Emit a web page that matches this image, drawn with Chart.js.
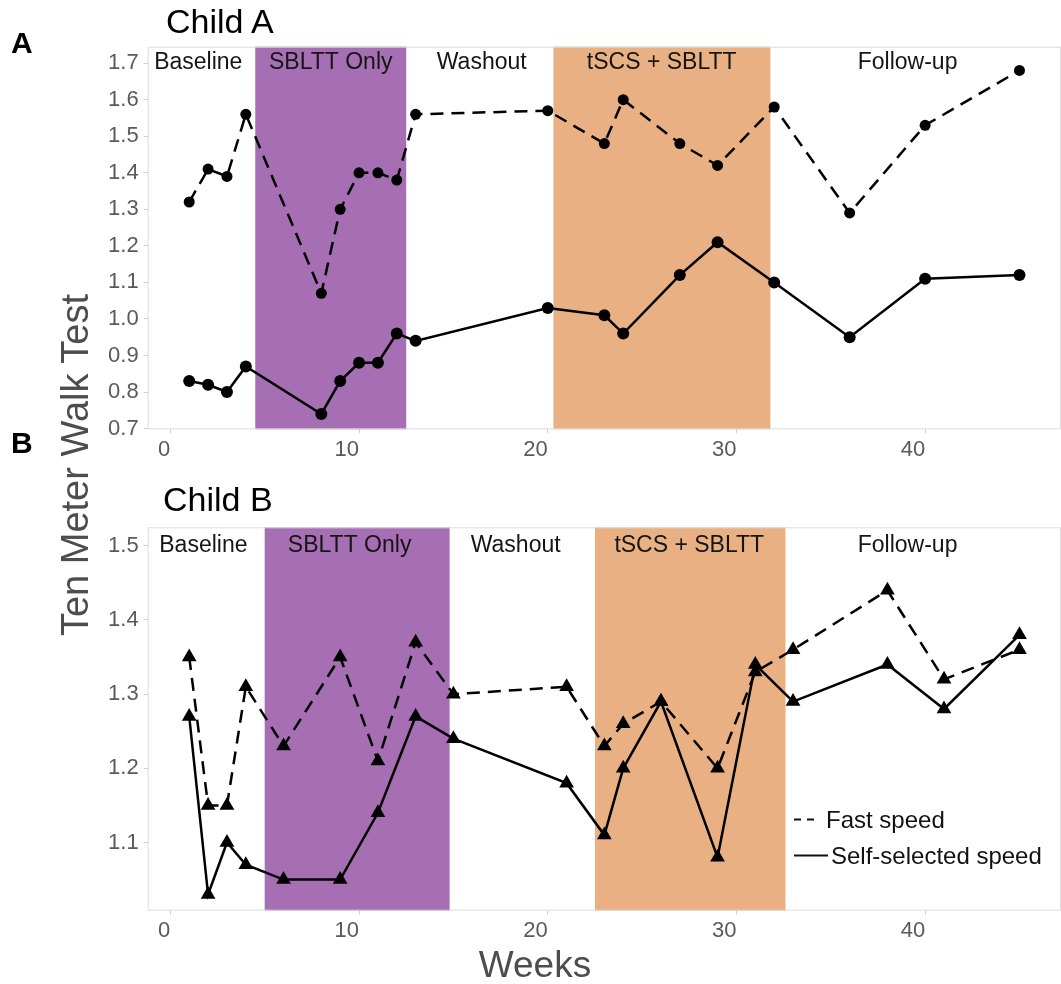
<!DOCTYPE html>
<html>
<head>
<meta charset="utf-8">
<script src="https://cdn.jsdelivr.net/npm/chart.js@4.4.1/dist/chart.umd.min.js"></script>
<style>
  html, body { margin: 0; padding: 0; background: #fff; }
  #wrap { position: relative; width: 1061px; height: 984px; overflow: hidden;
          font-family: "Liberation Sans", Arial, Helvetica, sans-serif; }
  .txt { position: absolute; white-space: nowrap; line-height: 1; }
  #boxA { position: absolute; left: 0; top: 0; width: 1061px; height: 480px; }
  #boxB { position: absolute; left: 0; top: 480px; width: 1061px; height: 504px; }
</style>
</head>
<body>
<div id="wrap">
  <div id="boxA"><canvas id="chartA" width="1061" height="480"></canvas></div>
  <div id="boxB"><canvas id="chartB" width="1061" height="504"></canvas></div>

  <div class="txt" style="left:11px; top:28px; font-size:30px; font-weight:bold; color:#000;">A</div>
  <div class="txt" style="left:11px; top:428px; font-size:30px; font-weight:bold; color:#000;">B</div>
  <div class="txt" style="left:166px; top:3.5px; font-size:34px; color:#000;">Child A</div>
  <div class="txt" style="left:163px; top:482px; font-size:34px; color:#000;">Child B</div>
  <div class="txt" style="left:-125px; top:446px; width:400px; text-align:center; font-size:38px; color:#4d4d4d; transform:rotate(-90deg);">Ten Meter Walk Test</div>
  <div class="txt" style="left:435px; top:946px; width:200px; text-align:center; font-size:37px; color:#4d4d4d;">Weeks</div>
</div>

<script>
// ---- data -------------------------------------------------------------
const xTicks = [0, 10, 20, 30, 40];
const yTicksA = [0.7, 0.8, 0.9, 1.0, 1.1, 1.2, 1.3, 1.4, 1.5, 1.6, 1.7];
const yTicksB = [1.1, 1.2, 1.3, 1.4, 1.5];

const phaseNames = ['Baseline', 'SBLTT Only', 'Washout', 'tSCS + SBLTT', 'Follow-up'];

// Child A
const weeksA = [1, 2, 3, 4, 8, 9, 10, 11, 12, 13, 20, 23, 24, 27, 29, 32, 36, 40, 45];
const fastA  = [1.32, 1.41, 1.39, 1.56, 1.07, 1.30, 1.40, 1.40, 1.38, 1.56, 1.57, 1.48, 1.60, 1.48, 1.42, 1.58, 1.29, 1.53, 1.68];
const selfA  = [0.83, 0.82, 0.80, 0.87, 0.74, 0.83, 0.88, 0.88, 0.96, 0.94, 1.03, 1.01, 0.96, 1.12, 1.21, 1.10, 0.95, 1.11, 1.12];
const sbltOnlyA = [4.5, 12.5];
const tscsA     = [20.3, 31.8];
const phaseLabelWeeksA = [1.48, 8.5, 16.5, 26.04, 39.07];

// Child B
const weeksB = [1, 2, 3, 4, 6, 9, 11, 13, 15, 21, 23, 24, 26, 29, 31, 33, 38, 41, 45];
const fastB  = [1.35, 1.15, 1.15, 1.31, 1.23, 1.35, 1.21, 1.37, 1.30, 1.31, 1.23, 1.26, 1.29, 1.20, 1.33, 1.36, 1.44, 1.32, 1.36];
const selfB  = [1.27, 1.03, 1.10, 1.07, 1.05, 1.05, 1.14, 1.27, 1.24, 1.18, 1.11, 1.20, 1.29, 1.08, 1.34, 1.29, 1.34, 1.28, 1.38];
const sbltOnlyB = [5.0, 14.8];
const tscsB     = [22.5, 32.6];
const phaseLabelWeeksB = [1.75, 9.5, 18.3, 27.5, 39.07];

// ---- styling ------------------------------------------------------------
const FONT = '"Liberation Sans", Arial, Helvetica, sans-serif';
const PURPLE = '#a76fb3';
const ORANGE = '#e9b183';
const TICK_GREY = '#5a5a5a';
const FRAME_GREY = '#dcdcdc';

Chart.defaults.font.family = FONT;
Chart.defaults.animation = false;
Chart.defaults.events = [];

// Shaded intervention phases, phase names and the panel frame
const phasePlugin = {
  id: 'phases',
  beforeDatasetsDraw(chart, args, opts) {
    const { ctx, chartArea: a, scales: { x, y } } = chart;
    ctx.save();
    for (const b of opts.bands) {
      const x0 = x.getPixelForValue(b.from);
      const x1 = x.getPixelForValue(b.to);
      ctx.fillStyle = b.color;
      ctx.fillRect(x0, a.top, x1 - x0, a.bottom - a.top);
    }
    ctx.strokeStyle = FRAME_GREY;
    ctx.lineWidth = 1;
    ctx.strokeRect(a.left + 0.5, a.top + 0.5, a.right - a.left - 1, a.bottom - a.top - 1);

    ctx.fillStyle = '#151515';
    ctx.font = '23px ' + FONT;
    ctx.textAlign = 'center';
    ctx.textBaseline = 'middle';
    const yPix = y.getPixelForValue(opts.labelY);
    opts.names.forEach((n, i) => {
      ctx.fillText(n, x.getPixelForValue(opts.labelWeeks[i]), yPix);
    });
    ctx.restore();
  }
};

// Line-type key drawn inside the lower panel
const keyPlugin = {
  id: 'speedKey',
  afterDatasetsDraw(chart, args, opts) {
    if (!opts.show) return;
    const { ctx } = chart;
    ctx.save();
    ctx.strokeStyle = '#111';
    ctx.lineWidth = 2;
    ctx.beginPath();
    ctx.moveTo(794, 339.5); ctx.lineTo(801, 339.5);
    ctx.moveTo(807, 339.5); ctx.lineTo(814, 339.5);
    ctx.moveTo(794, 375.5); ctx.lineTo(828, 375.5);
    ctx.stroke();
    ctx.fillStyle = '#111';
    ctx.font = '24px ' + FONT;
    ctx.textAlign = 'left';
    ctx.textBaseline = 'alphabetic';
    ctx.fillText('Fast speed', 826, 347.5);
    ctx.fillText('Self-selected speed', 831, 383.5);
    ctx.restore();
  }
};

function series(weeks, vals) {
  return weeks.map((w, i) => ({ x: w, y: vals[i] }));
}

function makeChart(id, cfg) {
  const canvas = document.getElementById(id);
  const H = canvas.height;
  return new Chart(canvas, {
    type: 'scatter',
    data: {
      datasets: [
        {
          label: 'Self-selected speed',
          data: series(cfg.weeks, cfg.self),
          showLine: true,
          borderColor: '#000',
          borderWidth: 2.5,
          pointStyle: cfg.marker,
          pointRadius: cfg.selfRadius,
          pointBackgroundColor: '#000',
          pointBorderColor: '#000',
          pointBorderWidth: 0
        },
        {
          label: 'Fast speed',
          data: series(cfg.weeks, cfg.fast),
          showLine: true,
          borderColor: '#000',
          borderWidth: 2.5,
          borderDash: [13, 8],
          pointStyle: cfg.marker,
          pointRadius: cfg.fastRadius,
          pointBackgroundColor: '#000',
          pointBorderColor: '#000',
          pointBorderWidth: 0
        }
      ]
    },
    options: {
      responsive: false,
      maintainAspectRatio: false,
      layout: { autoPadding: false, padding: { top: cfg.top, left: 0, right: 0, bottom: 0 } },
      plugins: {
        legend: { display: false },
        tooltip: { enabled: false },
        phases: {
          bands: [
            { from: cfg.sblt[0], to: cfg.sblt[1], color: PURPLE },
            { from: cfg.tscs[0], to: cfg.tscs[1], color: ORANGE }
          ],
          names: phaseNames,
          labelWeeks: cfg.labelWeeks,
          labelY: cfg.labelY
        },
        speedKey: { show: !!cfg.key }
      },
      scales: {
        x: {
          type: 'linear',
          min: -1.2,
          max: 47.2,
          afterBuildTicks: s => { s.ticks = xTicks.map(v => ({ value: v })); },
          afterFit: s => { s.height = H - cfg.bottom; s.paddingLeft = 0; s.paddingRight = 0; },
          border: { display: false },
          grid: { drawOnChartArea: false, drawTicks: true, tickLength: 4, color: '#cfcfcf' },
          ticks: {
            align: 'end',
            padding: 3,
            autoSkip: false,
            maxRotation: 0,
            color: TICK_GREY,
            font: { size: 22, family: FONT },
            callback: v => String(v)
          }
        },
        y: {
          type: 'linear',
          min: cfg.yMin,
          max: cfg.yMax,
          afterBuildTicks: s => { s.ticks = cfg.yTicks.map(v => ({ value: v })); },
          afterFit: s => { s.width = 147.7; s.paddingTop = 0; s.paddingBottom = 0; },
          border: { display: false },
          grid: { drawOnChartArea: false, drawTicks: true, tickLength: 4, color: '#cfcfcf' },
          ticks: {
            padding: 5,
            color: TICK_GREY,
            font: { size: 22, family: FONT },
            callback: v => Number(v).toFixed(1)
          }
        }
      }
    },
    plugins: [phasePlugin, keyPlugin]
  });
}

makeChart('chartA', {
  weeks: weeksA, fast: fastA, self: selfA,
  marker: 'circle', fastRadius: 5.5, selfRadius: 6,
  sblt: sbltOnlyA, tscs: tscsA,
  labelWeeks: phaseLabelWeeksA, labelY: 1.7,
  yMin: 0.698, yMax: 1.745, yTicks: yTicksA,
  top: 46.7, bottom: 429.3
});

makeChart('chartB', {
  weeks: weeksB, fast: fastB, self: selfB,
  marker: 'triangle', fastRadius: 8.5, selfRadius: 8.5,
  sblt: sbltOnlyB, tscs: tscsB,
  labelWeeks: phaseLabelWeeksB, labelY: 1.5,
  yMin: 1.008, yMax: 1.525, yTicks: yTicksB,
  top: 47.3, bottom: 430.7,
  key: true
});
</script>
</body>
</html>
